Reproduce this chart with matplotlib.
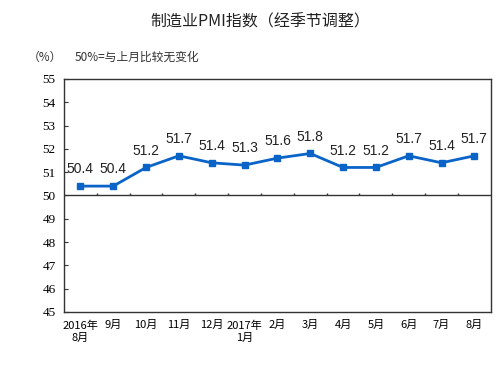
import numpy as np
import matplotlib.pyplot as plt

plt.rcParams['font.family'] = ['Noto Sans CJK SC', 'DejaVu Sans']

# data
months = ['2016年\n8月', '9月', '10月', '11月', '12月', '2017年\n1月', '2月',
          '3月', '4月', '5月', '6月', '7月', '8月']
pmi = [50.4, 50.4, 51.2, 51.7, 51.4, 51.3, 51.6, 51.8, 51.2, 51.2, 51.7, 51.4, 51.7]
yticks = [45, 46, 47, 48, 49, 50, 51, 52, 53, 54, 55]

fig = plt.figure(figsize=(4.98, 3.67), dpi=100)
ax = fig.add_axes([0.1285, 0.150, 0.857, 0.635])

x = np.arange(len(pmi))
blue = '#0a64c8'
ax.plot(x, pmi, color=blue, lw=2, marker='s', ms=4.5, zorder=3)

for xi, v in zip(x, pmi):
    ax.annotate(f'{v:.1f}', (xi, v), xytext=(0, 7), textcoords='offset points',
                ha='center', va='bottom', fontsize=10, family='Liberation Sans',
                color='#222222')

# 50 line with category boundary ticks
ax.axhline(50, color='#333333', lw=1, zorder=2)
ax.vlines(x[:-1] + 0.5, 50, 50.12, color='#333333', lw=1)

ax.set_xlim(-0.5, len(pmi) - 0.5)
ax.set_ylim(45, 55)
ax.set_yticks(yticks)
ax.set_yticklabels([str(t) for t in yticks], family='Liberation Serif', fontsize=9.5)
ax.set_xticks(x)
ax.set_xticklabels(months, fontsize=8, linespacing=1.3)
ax.tick_params(axis='x', length=0, pad=6)
ax.tick_params(axis='y', direction='in', length=3, pad=6, color='#333333')
for s in ax.spines.values():
    s.set_color('#333333')
    s.set_linewidth(1)

fig.text(0.522, 0.94, '制造业PMI指数（经季节调整）', ha='center', va='center',
         fontsize=11.5, color='#222222')
fig.text(0.055, 0.845, '（%）', ha='left', va='center', fontsize=8.5, color='#333333')
fig.text(0.150, 0.845, '50%=与上月比较无变化', ha='left', va='center', fontsize=8.5,
         color='#333333')

fig.savefig('out.png', dpi=100)
